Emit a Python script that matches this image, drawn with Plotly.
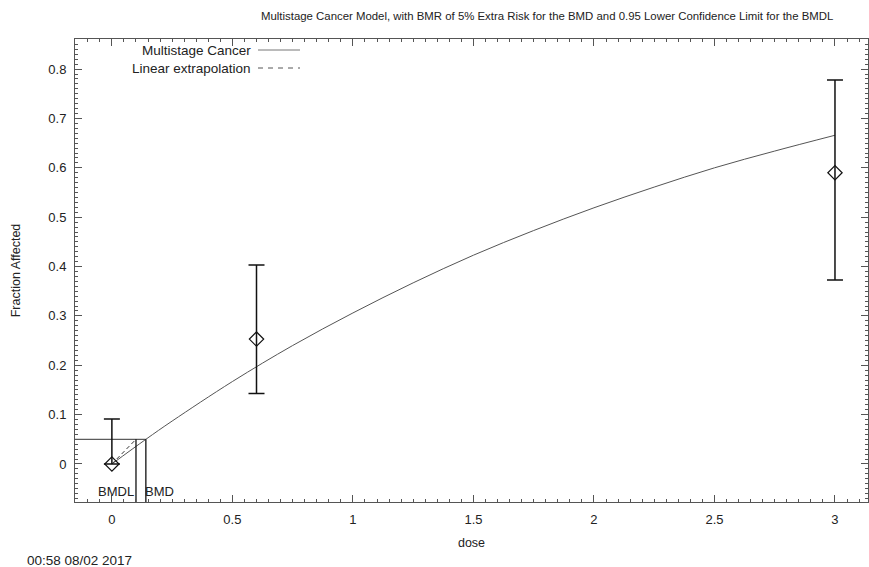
import plotly.graph_objects as go

# ---- data ----
dose = [0, 0.6, 3]
frac = [0.0, 0.253, 0.59]
err_upper = [0.091, 0.403, 0.778]
err_lower = [0.0, 0.143, 0.373]

curve_dose = [0, 0.141, 0.25, 0.5, 0.75, 1.0, 1.25, 1.5, 1.75, 2.0, 2.25, 2.5, 2.75, 3.0]
curve_frac = [0.0, 0.050, 0.087, 0.167, 0.240, 0.306, 0.367, 0.423, 0.473, 0.519, 0.561, 0.600, 0.634, 0.666]

bmr_level = 0.05
bmd = 0.141
bmdl = 0.100
bg = 0.0

x_range = [-0.153, 3.137]
y_range = [-0.077, 0.861]

title_text = "Multistage Cancer Model, with BMR of 5% Extra Risk for the BMD and 0.95 Lower Confidence Limit for the BMDL"
timestamp = "00:58 08/02 2017"

FONT = "Liberation Sans, Arial, sans-serif"
TXT = "#222222"

fig = go.Figure()

# model curve
fig.add_trace(go.Scatter(x=curve_dose, y=curve_frac, mode="lines",
                         line=dict(color="#555555", width=1, shape="spline"),
                         showlegend=False, hoverinfo="skip"))

# linear extrapolation
fig.add_trace(go.Scatter(x=[0, bmdl], y=[bg, bmr_level], mode="lines",
                         line=dict(color="#333333", width=1, dash="4px,3px"),
                         showlegend=False, hoverinfo="skip"))

# BMR horizontal line
fig.add_trace(go.Scatter(x=[x_range[0], bmd], y=[bmr_level, bmr_level], mode="lines",
                         line=dict(color="#333333", width=1),
                         showlegend=False, hoverinfo="skip"))
# BMDL and BMD vertical lines
fig.add_trace(go.Scatter(x=[bmdl, bmdl], y=[bmr_level, y_range[0]], mode="lines",
                         line=dict(color="#111111", width=1.3),
                         showlegend=False, hoverinfo="skip"))
fig.add_trace(go.Scatter(x=[bmd, bmd], y=[bmr_level, y_range[0]], mode="lines",
                         line=dict(color="#111111", width=1.3),
                         showlegend=False, hoverinfo="skip"))

# data points with error bars
fig.add_trace(go.Scatter(
    x=dose, y=frac, mode="markers",
    marker=dict(symbol="diamond-open", size=11, color="#111111", line=dict(width=1.2)),
    error_y=dict(type="data", symmetric=False,
                 array=[u - f for u, f in zip(err_upper, frac)],
                 arrayminus=[f - l for f, l in zip(frac, err_lower)],
                 color="#111111", thickness=1.5, width=8),
    showlegend=False, hoverinfo="skip"))

axis_common = dict(showgrid=False, zeroline=False, showline=True, linecolor="#555555",
                   linewidth=1, mirror="ticks", ticks="inside", tickcolor="#555555",
                   tickfont=dict(family=FONT, size=13, color=TXT))

fig.update_xaxes(range=x_range, dtick=0.5, tick0=0, ticklen=7, ticklabelstandoff=5,
                 minor=dict(dtick=0.05, tick0=0, ticks="inside", ticklen=3, tickcolor="#555555"),
                 title=dict(text="dose", font=dict(family=FONT, size=12.5, color=TXT), standoff=12),
                 **axis_common)
fig.update_yaxes(range=y_range, dtick=0.1, tick0=0, ticklen=7, ticklabelstandoff=5,
                 minor=dict(dtick=0.01, tick0=0, ticks="inside", ticklen=3, tickcolor="#555555"),
                 title=dict(text="Fraction Affected", font=dict(family=FONT, size=12.5, color=TXT), standoff=24),
                 **axis_common)

annotations = [
    dict(text=title_text, xref="paper", yref="paper", x=0.595, y=1.0, yshift=23,
         xanchor="center", yanchor="middle", showarrow=False,
         font=dict(family=FONT, size=11.4, color=TXT)),
    dict(text="Multistage Cancer", xref="paper", yref="paper", x=(253 - 75) / 793, y=1 - (50 - 39) / 463,
         xanchor="right", yanchor="middle", showarrow=False,
         font=dict(family=FONT, size=13.5, color=TXT)),
    dict(text="Linear extrapolation", xref="paper", yref="paper", x=(253 - 75) / 793, y=1 - (68 - 39) / 463,
         xanchor="right", yanchor="middle", showarrow=False,
         font=dict(family=FONT, size=13.5, color=TXT)),
    dict(text="BMDL", x=bmdl, y=y_range[0], xref="x", yref="y", xanchor="right", yanchor="bottom",
         yshift=1, xshift=0, showarrow=False, font=dict(family=FONT, size=13, color=TXT)),
    dict(text="BMD", x=bmd, y=y_range[0], xref="x", yref="y", xanchor="left", yanchor="bottom",
         yshift=1, xshift=-3, showarrow=False, font=dict(family=FONT, size=13, color=TXT)),
    dict(text=timestamp, xref="paper", yref="paper", x=(25 - 75) / 793, y=-(560 - 502) / 463,
         xanchor="left", yanchor="middle", showarrow=False,
         font=dict(family=FONT, size=13.5, color=TXT)),
]

shapes = [
    dict(type="line", xref="paper", yref="paper", x0=(258 - 75) / 793, x1=(300 - 75) / 793,
         y0=1 - (50 - 39) / 463, y1=1 - (50 - 39) / 463, line=dict(color="#777777", width=1)),
    dict(type="line", xref="paper", yref="paper", x0=(258 - 75) / 793, x1=(300 - 75) / 793,
         y0=1 - (68 - 39) / 463, y1=1 - (68 - 39) / 463, line=dict(color="#555555", width=1, dash="5px,5px")),
]

fig.update_layout(width=869, height=567, margin=dict(l=75, r=1, t=39, b=65),
                  paper_bgcolor="white", plot_bgcolor="white",
                  annotations=annotations, shapes=shapes, showlegend=False)

fig.write_html("out.html", config={"displayModeBar": False},
               post_script="document.body.style.margin='0';document.body.style.overflow='hidden';")
